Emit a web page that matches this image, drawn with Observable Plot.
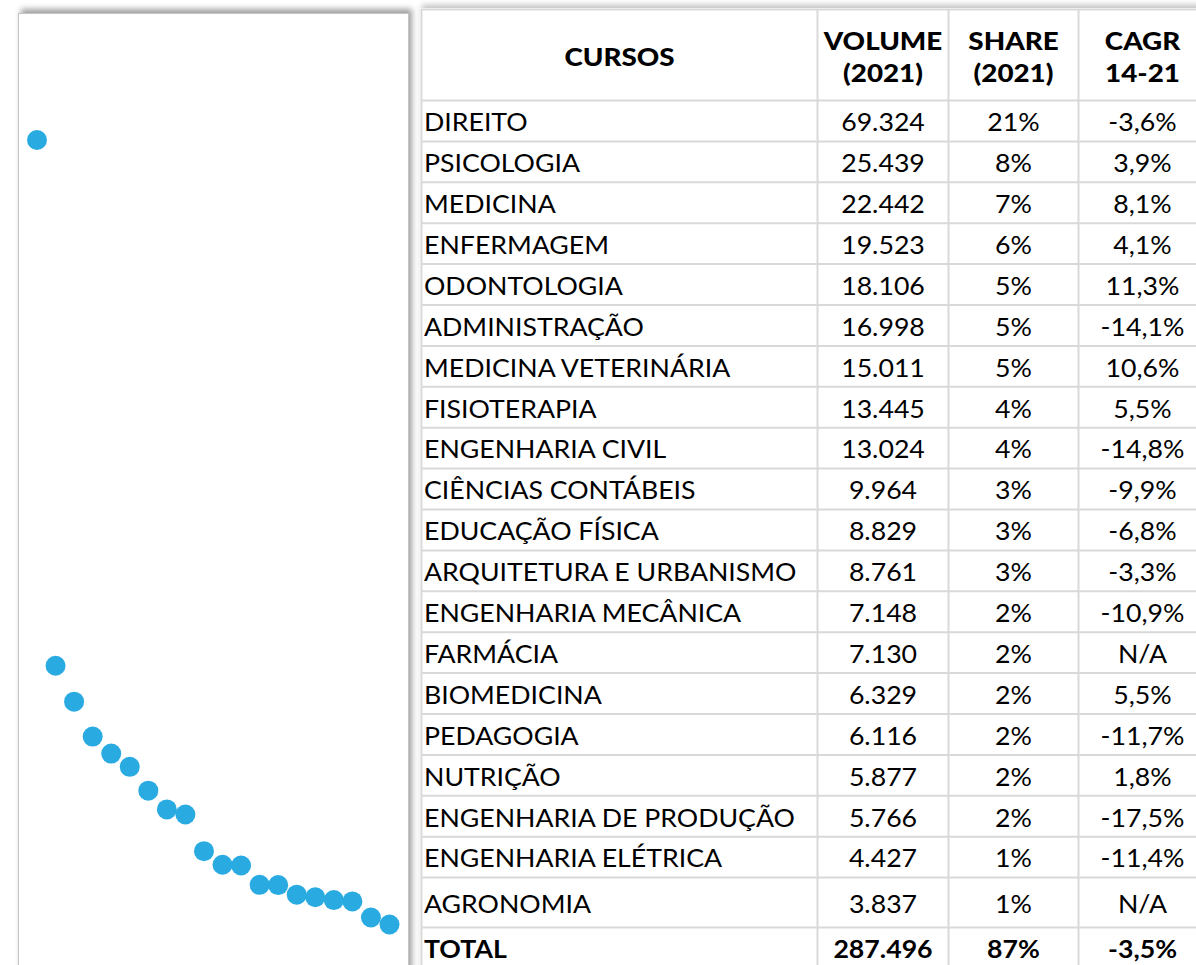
<!DOCTYPE html>
<html>
<head>
<meta charset="utf-8">
<script src="https://cdn.jsdelivr.net/npm/d3@7"></script>
<script src="https://cdn.jsdelivr.net/npm/@observablehq/plot@0.6"></script>
<style>
  html, body { margin: 0; padding: 0; background: #fff; }
  #wrap { position: relative; width: 1196px; height: 965px; overflow: hidden; background: #fff; }
  #left { position: absolute; left: 18px; top: 13px; width: 389px; height: 990px;
          border: 1px solid #c4c4c4; box-shadow: 3px -4px 6px rgba(0,0,0,0.38); background: #fff; }
  #table { position: absolute; left: 420px; top: 8px; width: 800px; height: 990px;
           box-shadow: 2px -3px 6px rgba(0,0,0,0.25); background: #fff; }
  svg { display: block; }
</style>
</head>
<body>
<div id="wrap">
  <div id="left"></div>
  <div id="table"></div>
</div>
<script>
// ---- data ----
const courses = ["DIREITO","PSICOLOGIA","MEDICINA","ENFERMAGEM","ODONTOLOGIA","ADMINISTRAÇÃO",
  "MEDICINA VETERINÁRIA","FISIOTERAPIA","ENGENHARIA CIVIL","CIÊNCIAS CONTÁBEIS","EDUCAÇÃO FÍSICA",
  "ARQUITETURA E URBANISMO","ENGENHARIA MECÂNICA","FARMÁCIA","BIOMEDICINA","PEDAGOGIA","NUTRIÇÃO",
  "ENGENHARIA DE PRODUÇÃO","ENGENHARIA ELÉTRICA","AGRONOMIA"];
const volumes = [69324,25439,22442,19523,18106,16998,15011,13445,13024,9964,8829,8761,7148,7130,6329,6116,5877,5766,4427,3837];
const shares = [21,8,7,6,5,5,5,4,4,3,3,3,2,2,2,2,2,2,1,1];
const cagr = [-3.6,3.9,8.1,4.1,11.3,-14.1,10.6,5.5,-14.8,-9.9,-6.8,-3.3,-10.9,null,5.5,-11.7,1.8,-17.5,-11.4,null];
const totalLabel = "TOTAL";
const totalVolume = 287496;
const totalShare = 87;
const totalCagr = -3.5;
const headers = ["CURSOS", "VOLUME\n(2021)", "SHARE\n(2021)", "CAGR\n14-21"];

// ---- formatting (pt-BR) ----
const loc = d3.formatLocale({decimal: ",", thousands: ".", grouping: [3], currency: ["R$", ""], minus: "-"});
const fmtInt = loc.format(",d");
const fmtPct1 = v => v == null ? "N/A" : loc.format(".1f")(v) + "%";
const fmtPct0 = v => v + "%";

const FONT = "Lato, 'Open Sans', sans-serif";
const BLUE = "#29abe2";
const GRID = "#d9d9d9";
const TEXT_STRETCH = 1.09;   // glyphs in the reference are slightly wide

// ---- left panel: dots ----
const dotData = courses.map((c, i) => ({curso: c, volume: volumes[i]}));
const left = Plot.plot({
  width: 389, height: 956,
  marginTop: 125.5, marginBottom: 0, marginLeft: 17.5, marginRight: 19,
  x: {type: "point", domain: courses, padding: 0, round: false, axis: null},
  y: {domain: [0, d3.max(volumes)], axis: null},
  marks: [
    Plot.dot(dotData, {x: "curso", y: "volume", r: 10, fill: BLUE, stroke: null})
  ]
});
document.getElementById("left").appendChild(left);

// ---- right panel: table ----
const colW = [396, 131, 130, 128];
const colEdges = [0]; colW.forEach(w => colEdges.push(colEdges[colEdges.length - 1] + w));
const colMid = colW.map((w, i) => colEdges[i] + w / 2);
const headerH = 91;
const rowLabels = courses.concat([totalLabel]);
const rowH = rowLabels.map(r => r === "AGRONOMIA" ? 50 : 40.9);
const rowEdges = [headerH]; rowH.forEach(h => rowEdges.push(rowEdges[rowEdges.length - 1] + h));
const hEdges = [0].concat(rowEdges);
const tableW = colEdges[colEdges.length - 1];
const tableH = rowEdges[rowEdges.length - 1];

const rows = rowLabels.map((label, i) => {
  const isTotal = i === courses.length;
  return {
    curso: label,
    vol: fmtInt(isTotal ? totalVolume : volumes[i]),
    share: fmtPct0(isTotal ? totalShare : shares[i]),
    cagr: fmtPct1(isTotal ? totalCagr : cagr[i]),
    ymid: (rowEdges[i] + rowEdges[i + 1]) / 2,
    bold: isTotal
  };
});
const headerData = headers.map((h, i) => ({text: h, x: colMid[i], y: headerH / 2}));
const normalRows = rows.filter(r => !r.bold);
const boldRows = rows.filter(r => r.bold);

function rowText(data, weight) {
  const common = {y: "ymid", fontSize: 24.5, fontFamily: FONT, fontWeight: weight, fill: "#000", dy: 2.5};
  return [
    Plot.text(data, {...common, x: () => 2.5, text: "curso", textAnchor: "start"}),
    Plot.text(data, {...common, x: () => colMid[1], text: "vol"}),
    Plot.text(data, {...common, x: () => colMid[2], text: "share"}),
    Plot.text(data, {...common, x: () => colMid[3], text: "cagr"})
  ];
}

const table = Plot.plot({
  width: 800, height: 990,
  margin: 0, marginLeft: 1, marginTop: 1,
  x: {domain: [0, 799], range: [1, 800], axis: null},
  y: {domain: [0, 989], range: [1, 990], axis: null},
  marks: [
    Plot.ruleX(colEdges, {x: d => d, y1: 0, y2: tableH, stroke: GRID, strokeWidth: 2}),
    Plot.ruleY(hEdges, {y: d => d, x1: 0, x2: tableW, stroke: GRID, strokeWidth: 2}),
    Plot.text(headerData, {x: "x", y: "y", text: "text", fontSize: 25.5, fontWeight: 900, fontFamily: FONT, fill: "#000", lineHeight: 1.28, dy: 0.5}),
    ...rowText(normalRows, 400),
    ...rowText(boldRows, 700)
  ]
});
// widen glyphs horizontally around their anchor to match the reference
d3.select(table).selectAll("text").each(function() {
  const t = this.getAttribute("transform");
  if (t && t.includes("translate")) this.setAttribute("transform", t + ` scale(${TEXT_STRETCH},1)`);
});
document.getElementById("table").appendChild(table);
</script>
</body>
</html>
